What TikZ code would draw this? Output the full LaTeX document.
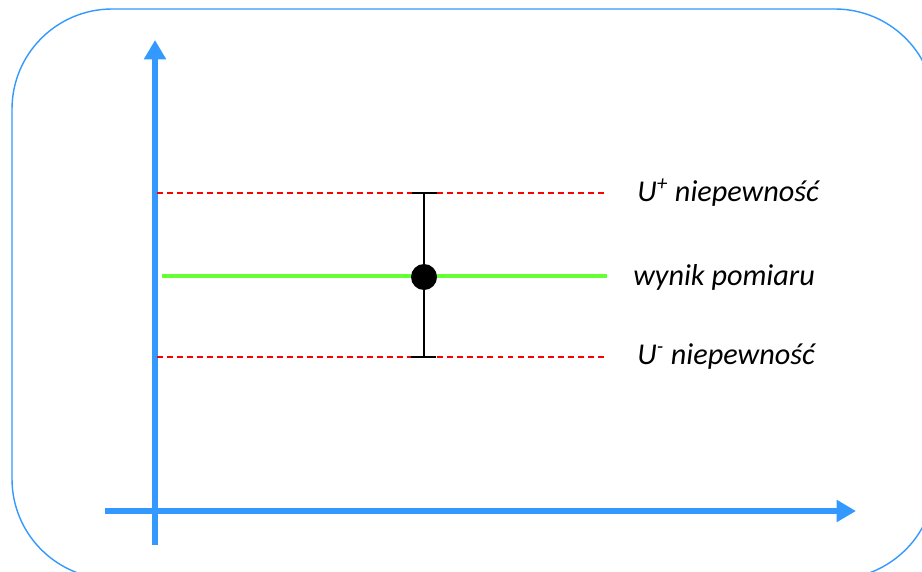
\documentclass[tikz,border=0pt]{standalone}
\usepackage{fontspec}
\setmainfont{Carlito}
\usetikzlibrary{arrows.meta}
\definecolor{axisblue}{RGB}{51,153,255}
\definecolor{resgreen}{RGB}{102,255,51}
\tikzset{
  frame/.style={draw=axisblue, line width=0.8pt, rounded corners=57pt},
  axis/.style={draw=axisblue, line width=3.4pt, -{Triangle[length=11pt,width=12pt]}},
  bound/.style={draw=red, line width=0.6pt, dash pattern=on 3.4pt off 2.3pt},
  result/.style={draw=resgreen, line width=2.3pt},
  errbar/.style={draw=black, line width=1.5pt},
  lbl/.style={anchor=west, font=\itshape\fontsize{17.2}{20}\selectfont, inner sep=0pt}
}
\begin{document}
\begin{tikzpicture}[x=0.02cm, y=-0.02cm]
\useasboundingbox (0,0) rectangle (922,571);
\begin{scope}
\clip (0,0) rectangle (922,571);
\draw[frame] (12,9) rectangle (935,579);
\end{scope}
% axes
\coordinate (yb) at (155,545);
\coordinate (yt) at (155,40);
\coordinate (xl) at (105,511);
\coordinate (xr) at (856,511);
\draw[axis] (yb) -- (yt);
\draw[axis] (xl) -- (xr);
% bound lines
\coordinate (ul) at (157,193);
\coordinate (ur) at (607,193);
\coordinate (ll) at (157,357);
\coordinate (lr) at (607,357);
\draw[bound] (ul) -- (ur);
\draw[bound] (ll) -- (lr);
% result
\coordinate (gl) at (162,276);
\coordinate (gr) at (607,276);
\draw[result] (gl) -- (gr);
% error bar
\coordinate (et) at (424,193);
\coordinate (eb) at (424,357);
\coordinate (etl) at (412,193);
\coordinate (etr) at (437,193);
\coordinate (ebl) at (411,357);
\coordinate (ebr) at (436,357);
\draw[errbar] (et) -- (eb);
\draw[errbar] (etl) -- (etr);
\draw[errbar] (ebl) -- (ebr);
\node[circle, fill=black, minimum size=26*0.02cm, inner sep=0pt] (dot) at (424,277) {};
% labels
\node[lbl] (lu) at (637,193) {U\textsuperscript{+} niepewność};
\node[lbl] (lw) at (633,277) {wynik pomiaru};
\node[lbl] (ld) at (637,357) {U\textsuperscript{-} niepewność};
\end{tikzpicture}
\end{document}
